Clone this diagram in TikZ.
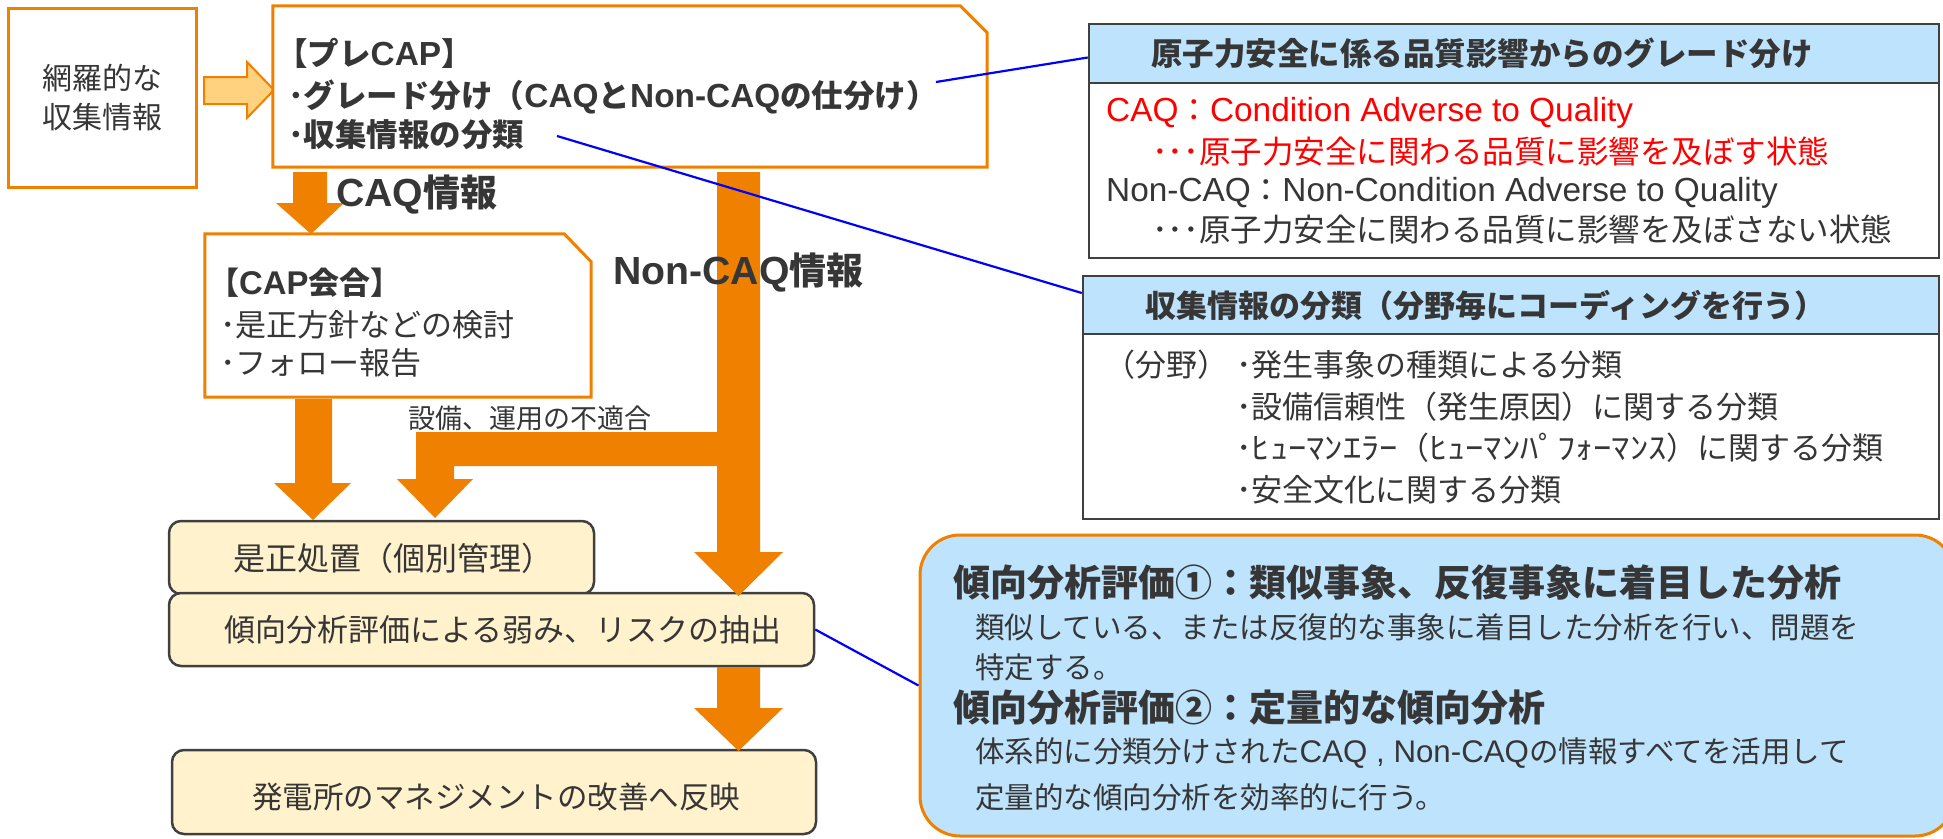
\documentclass[tikz,border=0pt]{standalone}
\usepackage{fontspec}
\setmainfont{Noto Sans CJK JP}
\newfontfamily\lat[Scale=1.06]{Liberation Sans}
\usetikzlibrary{calc}
\definecolor{orng}{HTML}{F08000}
\definecolor{lorng}{HTML}{FFD27F}
\definecolor{cream}{HTML}{FFF2CC}
\definecolor{lblue}{HTML}{BEE3FC}
\definecolor{dgray}{HTML}{404040}
\definecolor{txt}{HTML}{363636}
\definecolor{myred}{HTML}{FF0000}
\newcommand\fs[1]{\fontsize{#1}{#1}\selectfont}
\newcommand\hw[1]{\scalebox{1.18}[1]{#1}}
\begin{document}
\begin{tikzpicture}[x=1pt,y=-1pt,
  tx/.style={anchor=west,inner sep=0pt,text=txt},
  frame/.style={inner sep=0pt},
  obox/.style={draw=orng,line width=3pt,fill=white,inner sep=0pt},
  cbox/.style={draw=dgray,line width=2.5pt,fill=cream,rounded corners=12pt,inner sep=0pt},
  hbox/.style={draw=dgray,line width=2.5pt,fill=lblue,inner sep=0pt},
  wbox/.style={draw=dgray,line width=2.5pt,fill=white,inner sep=0pt},
  abox/.style={draw=orng,line width=3pt,fill=lblue,rounded corners=40pt,inner sep=0pt},
  blk/.style={fill=orng,draw=none},
  link/.style={draw=blue,line width=2.2pt},
]
\useasboundingbox (0,0) rectangle (1943,838);

% ---- left source box
\node[obox,minimum width=188pt,minimum height=179pt,align=center,text=txt,font=\fs{30}\linespread{1}\selectfont] (src) at (102,97.5) {網羅的な\\[9pt]収集情報};

% hollow arrow
\draw[draw=orng,fill=lorng,line width=2pt,line join=miter] (204,77) -- (247,77) -- (247,62) -- (274,90) -- (247,118) -- (247,104) -- (204,104) -- cycle;

% ---- PreCAP box
\node[frame,minimum width=714pt,minimum height=161pt] (precap) at (630,86.5) {};
\draw[draw=orng,fill=white,line width=3pt] (precap.north west) -- ([xshift=-27pt]precap.north east) -- ([yshift=-27pt]precap.north east) -- (precap.south east) -- (precap.south west) -- cycle;
\node[tx,font=\bfseries\fs{31.5}] (p1) at (276,53) {【プレ{\lat CAP}】};
\node[tx,font=\bfseries\fs{31.5}] (p2) at (288,97) {･グレード分け（{\lat CAQ}と{\lat Non-CAQ}の仕分け）};
\node[tx,font=\bfseries\fs{31.5}] (p3) at (288,135) {･収集情報の分類};

% ---- CAP meeting box
\node[frame,minimum width=386pt,minimum height=163pt] (cap) at (398,315.5) {};
\draw[draw=orng,fill=white,line width=3pt] (cap.north west) -- ([xshift=-27pt]cap.north east) -- ([yshift=-28pt]cap.north east) -- (cap.south east) -- (cap.south west) -- cycle;
\node[tx,font=\bfseries\fs{31}] (c1) at (208,283) {【{\lat CAP}会合】};
\node[tx,font=\fs{31}] (c2) at (220,325) {･是正方針などの検討};
\node[tx,font=\fs{31}] (c3) at (220,363) {･フォロー報告};

% ---- cream boxes
\node[cbox,minimum width=425pt,minimum height=73pt] (fix) at (381.5,557.5) {};
\node[cbox,minimum width=645pt,minimum height=73pt] (trend) at (491.5,629.5) {};
\node[cbox,minimum width=644pt,minimum height=84pt] (mgmt) at (494,792) {};
\node[tx,font=\fs{32}] (t1) at (233,558) {是正処置（個別管理）};
\node[tx,font=\fs{31}] (t2) at (224,630) {傾向分析評価による弱み、リスクの抽出};
\node[tx,font=\fs{30.5}] (t3) at (252,797) {発電所のマネジメントの改善へ反映};

% ---- block arrows
\fill[blk] (293,172) -- (327,172) -- (327,203) -- (344,203) -- (311,234) -- (276,203) -- (293,203) -- cycle;
\fill[blk] (717,172) -- (760,172) -- (760,552) -- (783,552) -- (738.5,596) -- (694,552) -- (717,552) -- cycle;
\fill[blk] (718,432) -- (416,432) -- (416,479) -- (397,479) -- (435,518) -- (473,479) -- (454,479) -- (454,466) -- (718,466) -- cycle;
\fill[blk] (295,399) -- (332,399) -- (332,483) -- (351,483) -- (313,520) -- (274,483) -- (295,483) -- cycle;
\fill[blk] (717,667) -- (760,667) -- (760,708) -- (783,708) -- (738.5,751) -- (694,708) -- (717,708) -- cycle;

\node[tx,font=\bfseries\fs{37}] (caqlbl) at (336,195) {{\lat CAQ}情報};
\node[tx,font=\bfseries\fs{37}] (ncaqlbl) at (613,273) {{\lat Non-CAQ}情報};
\node[tx,font=\fs{27}] (mis) at (408,418) {設備、運用の不適合};

% ---- grade box
\node[wbox,minimum width=850pt,minimum height=175pt] (g1b) at (1514,170.5) {};
\node[hbox,minimum width=850pt,minimum height=59pt] (g1h) at (1514,53.5) {};
\node[tx,font=\bfseries\fs{31.5}] (g1t) at (1151,53) {原子力安全に係る品質影響からのグレード分け};
\node[tx,text=myred,font=\fs{31.5}] (g1a) at (1106,113) {{\lat CAQ}：{\lat Condition Adverse to Quality}};
\node[tx,text=myred,font=\fs{31.5}] (g1b1) at (1152,152) {･･･原子力安全に関わる品質に影響を及ぼす状態};
\node[tx,font=\fs{31.5}] (g1c) at (1106,193) {{\lat Non-CAQ}：{\lat Non-Condition Adverse to Quality}};
\node[tx,font=\fs{31.5}] (g1d) at (1152,230) {･･･原子力安全に関わる品質に影響を及ぼさない状態};

% ---- classification box
\node[wbox,minimum width=856pt,minimum height=185pt] (g2b) at (1511,426.5) {};
\node[hbox,minimum width=856pt,minimum height=58pt] (g2h) at (1511,305) {};
\node[tx,font=\bfseries\fs{31}] (g2t) at (1145,305) {収集情報の分類（分野毎にコーディングを行う）};
\node[tx,font=\fs{31}] (b1) at (1104,365) {（分野）};
\node[tx,font=\fs{31}] (b2) at (1236,365) {･発生事象の種類による分類};
\node[tx,font=\fs{31}] (b3) at (1236,407) {･設備信頼性（発生原因）に関する分類};
\node[tx,font=\fs{31}] (b4) at (1236,448) {･\hw{ﾋｭｰﾏﾝｴﾗｰ}（\hw{ﾋｭｰﾏﾝﾊﾟﾌｫｰﾏﾝｽ}）に関する分類};
\node[tx,font=\fs{31}] (b5) at (1236,490) {･安全文化に関する分類};

% ---- analysis box
\node[abox,minimum width=1035pt,minimum height=301pt] (ana) at (1437.5,685.5) {};
\node[tx,font=\bfseries\fs{37}] (a1) at (953,582) {傾向分析評価①：類似事象、反復事象に着目した分析};
\node[tx,font=\fs{29.5}] (a2) at (975,627) {類似している、または反復的な事象に着目した分析を行い、問題を};
\node[tx,font=\fs{29.5}] (a3) at (975,667) {特定する。};
\node[tx,font=\bfseries\fs{37}] (a4) at (953,708) {傾向分析評価②：定量的な傾向分析};
\node[tx,font=\fs{29.5}] (a5) at (975,753) {体系的に分類分けされた{\lat CAQ , Non-CAQ}の情報すべてを活用して};
\node[tx,font=\fs{29.5}] (a6) at (975,797) {定量的な傾向分析を効率的に行う。};

% ---- blue links
\coordinate (l1) at (936,82);
\coordinate (l2) at (557,136);
\draw[link] (l1) -- ([yshift=-4pt]g1h.west);
\draw[link] (l2) -- ([yshift=12pt]g2h.west);
\draw[link] (trend.east) -- (ana.west);
\end{tikzpicture}
\end{document}
